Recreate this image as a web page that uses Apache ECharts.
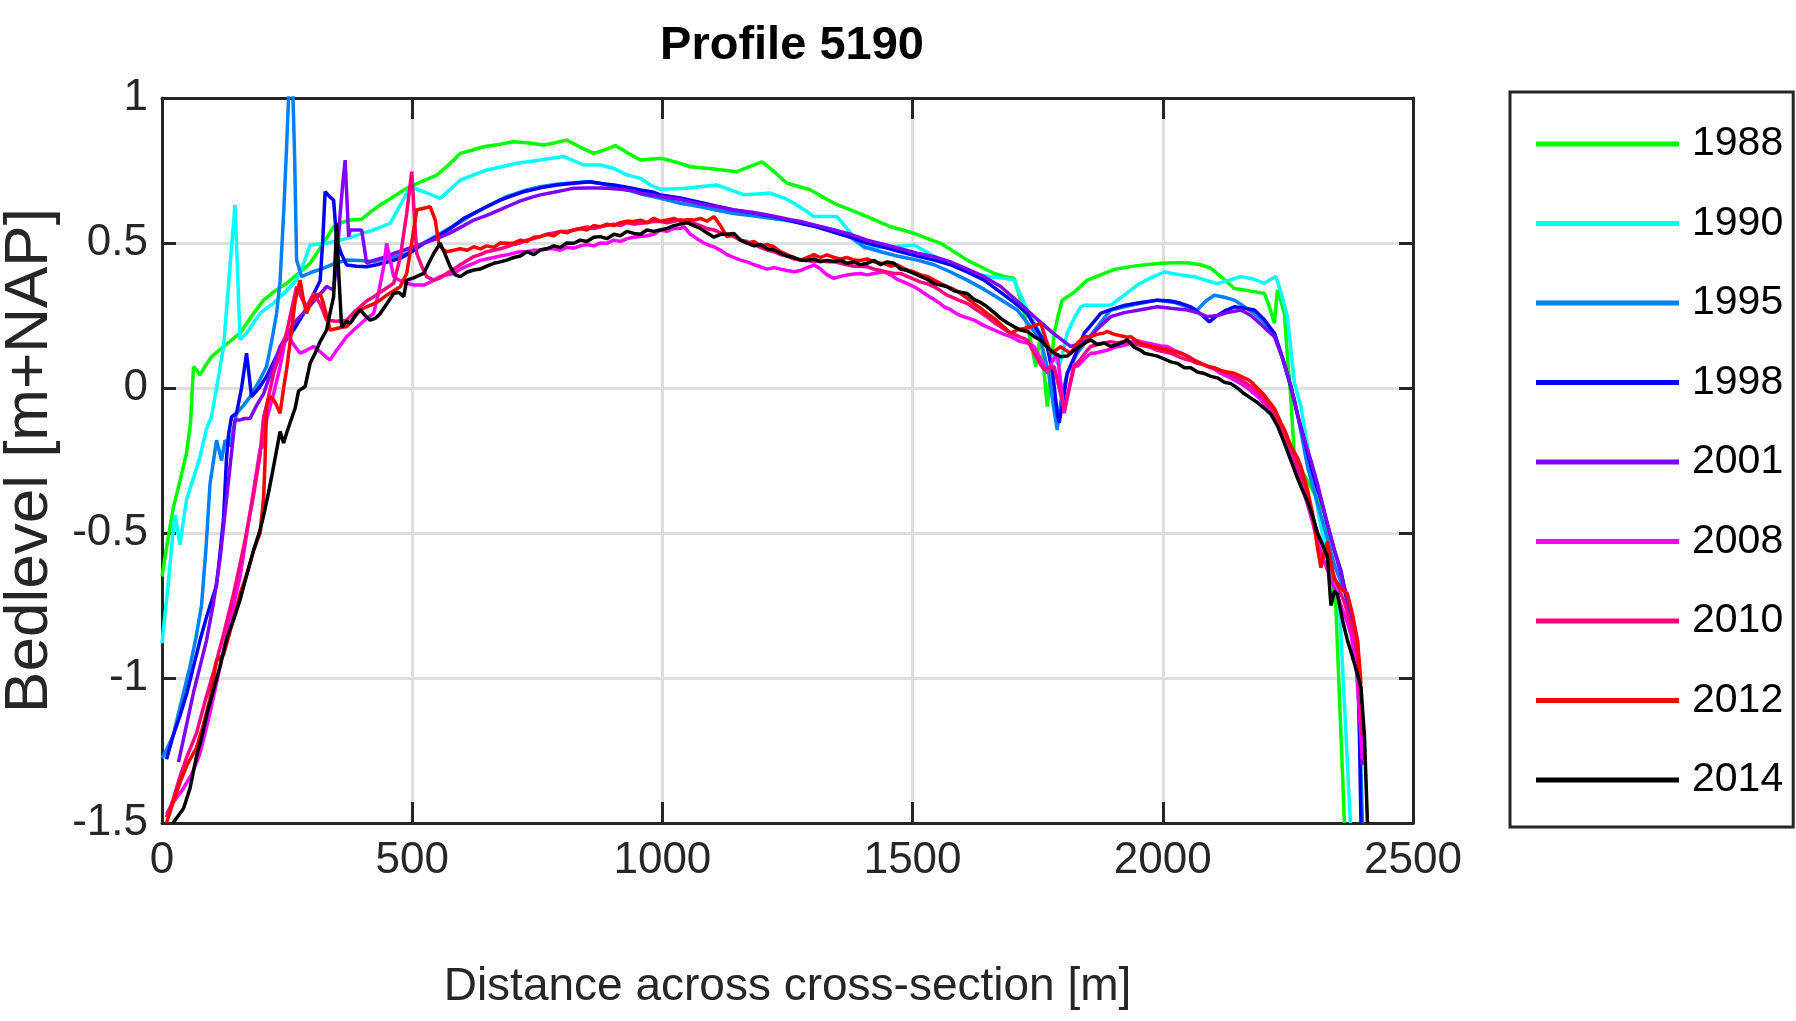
<!DOCTYPE html>
<html>
<head>
<meta charset="utf-8">
<script src="https://cdn.jsdelivr.net/npm/echarts@6/dist/echarts.min.js"></script>
<style>html,body{margin:0;padding:0;background:#fff;}#chart{width:1796px;height:1021px;}</style>
</head>
<body>
<div id="chart"></div>
<script>
// ---- Data (distance [m], bedlevel [m+NAP]) ----
const years = ['1988','1990','1995','1998','2001','2008','2010','2012','2014'];
const colors = ['#00ff00','#00ffff','#0080ff','#0000ff','#8000ff','#ff00ff','#ff0080','#ff0000','#000000'];
const xTicks = [0,500,1000,1500,2000,2500];
const yTicks = [-1.5,-1,-0.5,0,0.5,1];

const d1988 = [[0,-0.65],[11,-0.53],[23,-0.41],[36,-0.32],[49,-0.225],[57,-0.12],[63,0.074],[70,0.06],[76,0.045],[88,0.08],[99,0.108],[128,0.15],[156,0.189],[180,0.25],[203,0.303],[226,0.335],[249,0.361],[273,0.395],[296,0.43],[319,0.49],[343,0.556],[359,0.57],[376,0.579],[399,0.582],[419,0.61],[436,0.631],[463,0.66],[489,0.689],[519,0.712],[549,0.734],[573,0.77],[596,0.809],[619,0.82],[643,0.832],[673,0.84],[703,0.849],[733,0.845],[763,0.838],[786,0.846],[809,0.855],[836,0.83],[863,0.809],[883,0.82],[906,0.836],[931,0.81],[956,0.786],[979,0.79],[999,0.792],[1029,0.778],[1056,0.763],[1103,0.755],[1149,0.746],[1174,0.763],[1199,0.78],[1224,0.745],[1249,0.706],[1273,0.695],[1296,0.683],[1319,0.66],[1343,0.637],[1376,0.614],[1409,0.591],[1433,0.573],[1456,0.556],[1480,0.545],[1503,0.533],[1529,0.516],[1556,0.499],[1583,0.47],[1609,0.441],[1636,0.418],[1663,0.395],[1683,0.385],[1703,0.378],[1713,0.32],[1723,0.257],[1735,0.17],[1746,0.074],[1756,0.189],[1763,0.05],[1769,-0.064],[1776,0.06],[1783,0.189],[1791,0.25],[1799,0.303],[1823,0.33],[1849,0.372],[1876,0.39],[1903,0.409],[1949,0.422],[1996,0.43],[2023,0.432],[2049,0.432],[2076,0.425],[2096,0.413],[2119,0.38],[2143,0.343],[2173,0.335],[2203,0.326],[2213,0.28],[2223,0.223],[2229,0.338],[2236,0.3],[2243,0.257],[2249,0.11],[2256,-0.039],[2263,-0.237],[2279,-0.29],[2296,-0.34],[2309,-0.385],[2323,-0.432],[2336,-0.6],[2346,-0.76],[2363,-1.5]];

const d1990 = [[0,-0.88],[11,-0.7],[22,-0.5],[26,-0.437],[36,-0.54],[49,-0.386],[63,-0.31],[76,-0.237],[89,-0.14],[99,-0.099],[111,0.02],[123,0.143],[135,0.4],[146,0.631],[151,0.4],[156,0.166],[169,0.189],[183,0.225],[196,0.257],[209,0.275],[223,0.292],[246,0.33],[269,0.372],[283,0.43],[296,0.493],[329,0.499],[356,0.51],[383,0.522],[403,0.535],[423,0.545],[456,0.568],[476,0.63],[496,0.694],[526,0.675],[556,0.654],[576,0.685],[596,0.717],[623,0.735],[649,0.752],[679,0.763],[709,0.775],[756,0.786],[803,0.798],[843,0.769],[876,0.769],[903,0.757],[929,0.735],[956,0.723],[976,0.7],[996,0.685],[1023,0.687],[1049,0.689],[1079,0.695],[1109,0.7],[1136,0.683],[1163,0.666],[1189,0.669],[1216,0.672],[1243,0.655],[1263,0.637],[1283,0.615],[1303,0.591],[1329,0.591],[1349,0.591],[1376,0.535],[1403,0.482],[1429,0.485],[1456,0.487],[1479,0.49],[1503,0.493],[1529,0.468],[1556,0.441],[1583,0.42],[1609,0.401],[1636,0.39],[1656,0.384],[1683,0.378],[1703,0.372],[1716,0.32],[1729,0.269],[1746,0.215],[1763,0.166],[1779,0.12],[1793,0.074],[1801,0.13],[1809,0.189],[1823,0.24],[1836,0.28],[1843,0.285],[1869,0.285],[1896,0.286],[1923,0.32],[1949,0.355],[1976,0.38],[2003,0.4],[2036,0.39],[2063,0.384],[2089,0.37],[2109,0.36],[2133,0.372],[2156,0.384],[2183,0.375],[2203,0.361],[2216,0.375],[2226,0.384],[2236,0.33],[2249,0.246],[2256,0.13],[2263,0.017],[2276,-0.064],[2289,-0.2],[2303,-0.35],[2316,-0.48],[2329,-0.58],[2343,-0.66],[2353,-0.75],[2375,-1.5]];

const d1995 = [[0,-1.277],[11,-1.24],[22,-1.2],[39,-1.08],[56,-0.96],[68,-0.86],[79,-0.75],[88,-0.55],[96,-0.33],[103,-0.25],[109,-0.18],[119,-0.25],[126,-0.18],[136,-0.2],[149,-0.087],[163,-0.06],[176,-0.03],[193,0.02],[209,0.074],[219,0.16],[229,0.257],[236,0.37],[243,0.6],[249,0.83],[254,1.05],[261,1.05],[265,0.8],[269,0.441],[279,0.384],[300,0.4],[323,0.413],[346,0.43],[369,0.441],[396,0.44],[423,0.436],[456,0.45],[489,0.464],[523,0.5],[556,0.533],[589,0.565],[623,0.602],[656,0.632],[689,0.66],[723,0.68],[756,0.694],[789,0.703],[823,0.708],[849,0.711],[876,0.706],[903,0.695],[936,0.68],[966,0.665],[996,0.654],[1036,0.637],[1076,0.625],[1109,0.613],[1143,0.602],[1176,0.595],[1209,0.587],[1243,0.579],[1276,0.57],[1309,0.558],[1343,0.545],[1376,0.52],[1403,0.487],[1436,0.47],[1469,0.455],[1509,0.441],[1543,0.425],[1576,0.4],[1609,0.372],[1643,0.34],[1676,0.305],[1709,0.269],[1736,0.21],[1756,0.166],[1772,0.05],[1783,-0.08],[1789,-0.145],[1796,-0.05],[1809,0.051],[1829,0.12],[1849,0.166],[1873,0.22],[1896,0.269],[1936,0.285],[1989,0.303],[2023,0.295],[2049,0.28],[2069,0.269],[2086,0.3],[2103,0.32],[2123,0.313],[2143,0.303],[2163,0.28],[2183,0.257],[2203,0.225],[2223,0.189],[2243,0.08],[2263,-0.04],[2276,-0.15],[2289,-0.27],[2303,-0.36],[2316,-0.44],[2329,-0.52],[2343,-0.61],[2356,-0.67],[2369,-0.73],[2379,-0.84],[2389,-0.96],[2394,-1.2],[2399,-1.5]];

const d1998 = [[9,-1.28],[22,-1.2],[36,-1.13],[50,-1.05],[63,-0.96],[76,-0.87],[89,-0.79],[109,-0.68],[116,-0.57],[123,-0.45],[129,-0.24],[133,-0.16],[139,-0.1],[149,-0.087],[159,0.0],[169,0.12],[179,-0.03],[194,0.0],[209,0.04],[226,0.1],[243,0.154],[263,0.2],[283,0.257],[299,0.31],[316,0.37],[321,0.5],[326,0.677],[335,0.66],[343,0.648],[349,0.51],[359,0.46],[369,0.424],[389,0.42],[409,0.418],[429,0.425],[456,0.437],[476,0.447],[499,0.47],[523,0.499],[549,0.52],[576,0.55],[603,0.585],[623,0.602],[649,0.625],[676,0.648],[703,0.665],[723,0.677],[756,0.69],[789,0.7],[823,0.706],[856,0.711],[876,0.705],[903,0.7],[929,0.692],[956,0.683],[983,0.675],[996,0.666],[1036,0.655],[1076,0.64],[1109,0.627],[1143,0.614],[1183,0.603],[1223,0.59],[1249,0.58],[1276,0.568],[1309,0.555],[1343,0.537],[1376,0.52],[1409,0.499],[1443,0.485],[1476,0.47],[1509,0.455],[1543,0.441],[1576,0.425],[1609,0.4],[1643,0.372],[1676,0.33],[1703,0.295],[1729,0.257],[1749,0.2],[1769,0.143],[1780,0.05],[1789,-0.087],[1793,-0.12],[1801,-0.04],[1809,0.05],[1829,0.13],[1843,0.189],[1863,0.23],[1876,0.257],[1896,0.27],[1923,0.285],[1956,0.295],[1989,0.303],[2016,0.3],[2036,0.292],[2056,0.28],[2076,0.255],[2093,0.228],[2109,0.25],[2123,0.265],[2143,0.28],[2163,0.275],[2183,0.269],[2203,0.235],[2223,0.189],[2240,0.1],[2256,0.005],[2269,-0.09],[2283,-0.18],[2296,-0.27],[2309,-0.35],[2316,-0.385],[2329,-0.47],[2343,-0.56],[2356,-0.63],[2363,-0.69],[2376,-0.8],[2389,-0.92],[2393,-1.2],[2396,-1.5]];

const d2001 = [[33,-1.29],[48,-1.17],[63,-1.05],[76,-0.96],[89,-0.87],[103,-0.74],[116,-0.59],[126,-0.43],[136,-0.27],[146,-0.11],[156,-0.11],[166,-0.105],[176,-0.105],[189,-0.06],[203,-0.02],[219,0.06],[236,0.143],[252,0.19],[269,0.234],[289,0.27],[309,0.31],[329,0.35],[343,0.338],[350,0.45],[356,0.6],[361,0.7],[366,0.786],[373,0.522],[376,0.545],[389,0.545],[399,0.545],[409,0.43],[423,0.44],[443,0.45],[463,0.464],[483,0.475],[503,0.487],[523,0.499],[549,0.515],[576,0.535],[603,0.56],[623,0.579],[649,0.595],[676,0.615],[689,0.625],[716,0.645],[743,0.66],[756,0.666],[783,0.675],[809,0.684],[823,0.689],[849,0.69],[876,0.69],[889,0.689],[916,0.685],[943,0.68],[956,0.671],[983,0.665],[996,0.66],[1036,0.65],[1076,0.635],[1109,0.625],[1143,0.614],[1183,0.605],[1223,0.592],[1256,0.58],[1276,0.574],[1309,0.56],[1343,0.545],[1376,0.53],[1409,0.51],[1443,0.495],[1476,0.48],[1509,0.465],[1543,0.453],[1576,0.435],[1609,0.41],[1643,0.384],[1676,0.35],[1709,0.3],[1743,0.246],[1780,0.19],[1816,0.143],[1829,0.15],[1849,0.166],[1873,0.21],[1896,0.246],[1923,0.26],[1956,0.27],[1989,0.28],[2016,0.275],[2049,0.269],[2069,0.26],[2089,0.246],[2109,0.25],[2129,0.26],[2156,0.269],[2176,0.25],[2196,0.22],[2223,0.177],[2240,0.1],[2256,0.005],[2276,-0.14],[2296,-0.25],[2309,-0.33],[2326,-0.45],[2343,-0.56],[2356,-0.64],[2369,-0.73],[2379,-0.8],[2389,-0.87],[2394,-1.05],[2398,-1.3]];

const d2008 = [[9,-1.47],[22,-1.43],[43,-1.38],[60,-1.33],[76,-1.26],[96,-1.12],[116,-0.96],[136,-0.8],[156,-0.65],[176,-0.43],[196,-0.21],[203,-0.2],[209,-0.11],[223,-0.02],[236,0.074],[249,0.189],[263,0.15],[276,0.12],[289,0.13],[303,0.143],[316,0.125],[329,0.105],[336,0.097],[349,0.13],[369,0.177],[383,0.2],[396,0.22],[409,0.24],[423,0.257],[433,0.33],[443,0.418],[449,0.499],[456,0.44],[463,0.384],[476,0.37],[489,0.361],[503,0.355],[523,0.355],[536,0.365],[556,0.384],[569,0.39],[583,0.395],[596,0.41],[609,0.42],[623,0.43],[636,0.44],[649,0.445],[663,0.45],[676,0.455],[689,0.459],[703,0.465],[716,0.47],[729,0.47],[743,0.475],[756,0.476],[769,0.48],[783,0.48],[796,0.475],[809,0.485],[823,0.482],[836,0.49],[849,0.495],[863,0.49],[876,0.5],[889,0.499],[903,0.51],[916,0.505],[929,0.515],[943,0.52],[956,0.522],[969,0.525],[983,0.53],[996,0.545],[1009,0.54],[1023,0.55],[1036,0.55],[1043,0.556],[1056,0.53],[1069,0.515],[1083,0.5],[1096,0.49],[1103,0.487],[1116,0.475],[1129,0.46],[1143,0.45],[1156,0.441],[1169,0.435],[1183,0.425],[1196,0.418],[1209,0.41],[1223,0.415],[1236,0.41],[1249,0.405],[1263,0.401],[1276,0.405],[1289,0.415],[1303,0.424],[1316,0.41],[1329,0.39],[1343,0.378],[1356,0.385],[1369,0.39],[1383,0.393],[1396,0.395],[1409,0.39],[1423,0.395],[1436,0.4],[1443,0.401],[1456,0.39],[1469,0.375],[1483,0.365],[1496,0.355],[1503,0.349],[1516,0.335],[1529,0.32],[1543,0.305],[1556,0.29],[1563,0.28],[1576,0.27],[1589,0.255],[1603,0.245],[1623,0.234],[1643,0.215],[1663,0.2],[1683,0.185],[1696,0.177],[1716,0.16],[1729,0.155],[1743,0.143],[1756,0.1],[1769,0.051],[1779,0.09],[1789,0.12],[1796,0.02],[1803,-0.087],[1813,0.0],[1823,0.085],[1829,0.074],[1843,0.1],[1856,0.12],[1863,0.12],[1876,0.125],[1889,0.13],[1903,0.14],[1916,0.145],[1929,0.15],[1943,0.166],[1956,0.16],[1969,0.155],[1983,0.15],[1996,0.145],[2009,0.143],[2023,0.13],[2036,0.12],[2049,0.11],[2063,0.095],[2076,0.085],[2089,0.075],[2103,0.065],[2116,0.05],[2129,0.04],[2143,0.028],[2156,0.015],[2169,0.0],[2183,-0.02],[2196,-0.04],[2209,-0.07],[2223,-0.1],[2236,-0.135],[2243,-0.155],[2256,-0.22],[2269,-0.29],[2276,-0.33],[2289,-0.4],[2299,-0.46],[2309,-0.53],[2323,-0.6],[2336,-0.66],[2343,-0.69],[2356,-0.75],[2369,-0.81],[2376,-0.85],[2386,-0.95],[2392,-1.1],[2399,-1.28]];

const d2010 = [[9,-1.48],[22,-1.42],[36,-1.34],[50,-1.27],[69,-1.19],[86,-1.08],[103,-0.98],[123,-0.85],[143,-0.71],[163,-0.55],[183,-0.37],[196,-0.23],[203,-0.1],[209,-0.06],[223,0.05],[236,0.12],[249,0.19],[259,0.27],[269,0.35],[279,0.31],[289,0.28],[303,0.326],[316,0.29],[329,0.234],[349,0.23],[369,0.234],[383,0.26],[396,0.28],[409,0.3],[423,0.315],[436,0.33],[449,0.345],[463,0.361],[476,0.45],[489,0.602],[499,0.746],[509,0.464],[519,0.42],[529,0.384],[543,0.372],[556,0.38],[569,0.395],[583,0.41],[596,0.425],[610,0.44],[623,0.453],[636,0.46],[649,0.47],[663,0.475],[676,0.48],[689,0.487],[703,0.495],[716,0.5],[729,0.51],[743,0.515],[756,0.522],[769,0.53],[783,0.535],[796,0.54],[809,0.54],[823,0.545],[836,0.55],[849,0.555],[863,0.55],[876,0.556],[889,0.56],[903,0.565],[916,0.56],[929,0.57],[943,0.565],[956,0.568],[969,0.57],[983,0.575],[996,0.574],[1009,0.57],[1023,0.575],[1036,0.58],[1049,0.575],[1063,0.568],[1076,0.56],[1089,0.55],[1103,0.545],[1116,0.535],[1129,0.53],[1143,0.522],[1156,0.51],[1169,0.505],[1183,0.495],[1196,0.485],[1209,0.476],[1223,0.47],[1236,0.46],[1249,0.455],[1263,0.445],[1276,0.441],[1289,0.44],[1303,0.435],[1316,0.44],[1329,0.435],[1343,0.436],[1356,0.43],[1369,0.425],[1383,0.42],[1396,0.42],[1409,0.418],[1423,0.41],[1436,0.405],[1449,0.4],[1463,0.395],[1476,0.395],[1489,0.385],[1503,0.375],[1516,0.365],[1529,0.36],[1543,0.349],[1556,0.335],[1569,0.32],[1583,0.31],[1596,0.3],[1609,0.292],[1623,0.275],[1636,0.26],[1649,0.245],[1663,0.225],[1676,0.211],[1689,0.195],[1703,0.185],[1716,0.175],[1729,0.166],[1743,0.12],[1756,0.08],[1763,0.063],[1773,0.07],[1783,0.074],[1793,0.0],[1803,-0.076],[1813,0.0],[1823,0.074],[1836,0.1],[1849,0.13],[1856,0.143],[1869,0.15],[1883,0.155],[1896,0.16],[1909,0.155],[1923,0.16],[1936,0.155],[1949,0.15],[1963,0.145],[1976,0.14],[1989,0.13],[2003,0.125],[2016,0.12],[2029,0.11],[2043,0.1],[2056,0.095],[2069,0.085],[2083,0.08],[2096,0.07],[2109,0.065],[2123,0.055],[2136,0.045],[2149,0.035],[2163,0.02],[2176,0.005],[2189,-0.015],[2203,-0.04],[2216,-0.07],[2229,-0.11],[2243,-0.16],[2256,-0.21],[2269,-0.27],[2283,-0.34],[2296,-0.42],[2309,-0.5],[2323,-0.56],[2336,-0.62],[2349,-0.68],[2363,-0.74],[2376,-0.82],[2389,-0.9],[2394,-1.05],[2398,-1.2]];

const d2012 = [[9,-1.5],[22,-1.43],[36,-1.36],[50,-1.3],[69,-1.24],[83,-1.16],[96,-1.07],[109,-0.94],[123,-0.92],[136,-0.84],[156,-0.71],[170,-0.64],[183,-0.56],[196,-0.5],[203,-0.38],[206,-0.25],[209,-0.06],[216,-0.03],[223,-0.04],[229,-0.06],[236,-0.087],[243,0.0],[249,0.063],[259,0.2],[266,0.3],[276,0.372],[283,0.3],[289,0.257],[296,0.29],[303,0.315],[316,0.326],[323,0.29],[336,0.2],[349,0.205],[362,0.21],[369,0.211],[383,0.24],[396,0.269],[409,0.28],[423,0.29],[436,0.303],[449,0.32],[463,0.335],[476,0.349],[489,0.395],[499,0.5],[509,0.614],[523,0.62],[536,0.625],[546,0.58],[553,0.499],[560,0.48],[569,0.47],[583,0.475],[596,0.48],[610,0.475],[623,0.487],[636,0.48],[649,0.49],[663,0.485],[676,0.5],[689,0.499],[703,0.5],[716,0.51],[729,0.505],[743,0.52],[756,0.522],[769,0.53],[783,0.525],[796,0.54],[809,0.535],[823,0.545],[836,0.55],[849,0.545],[863,0.56],[876,0.556],[889,0.565],[903,0.56],[916,0.57],[929,0.575],[943,0.574],[956,0.579],[969,0.57],[983,0.585],[996,0.575],[1009,0.579],[1023,0.585],[1036,0.575],[1049,0.58],[1063,0.579],[1076,0.585],[1089,0.575],[1103,0.591],[1116,0.56],[1129,0.522],[1143,0.53],[1156,0.51],[1169,0.499],[1183,0.505],[1196,0.49],[1209,0.495],[1223,0.487],[1236,0.47],[1249,0.46],[1263,0.45],[1276,0.441],[1289,0.45],[1303,0.46],[1316,0.45],[1329,0.459],[1343,0.45],[1356,0.445],[1369,0.45],[1383,0.441],[1396,0.44],[1409,0.445],[1423,0.435],[1436,0.43],[1443,0.43],[1456,0.42],[1469,0.425],[1489,0.407],[1503,0.4],[1516,0.39],[1529,0.385],[1543,0.372],[1556,0.36],[1569,0.35],[1583,0.34],[1596,0.326],[1609,0.31],[1623,0.29],[1636,0.275],[1649,0.257],[1663,0.24],[1676,0.22],[1689,0.2],[1696,0.189],[1709,0.2],[1723,0.205],[1736,0.211],[1756,0.223],[1766,0.17],[1776,0.12],[1786,0.13],[1796,0.143],[1806,0.13],[1816,0.12],[1829,0.154],[1843,0.177],[1856,0.177],[1869,0.185],[1883,0.19],[1889,0.195],[1903,0.185],[1916,0.18],[1929,0.175],[1936,0.177],[1949,0.16],[1963,0.149],[1976,0.145],[1989,0.14],[2003,0.135],[2023,0.126],[2036,0.12],[2049,0.11],[2063,0.095],[2076,0.085],[2089,0.075],[2103,0.07],[2116,0.06],[2129,0.055],[2143,0.051],[2156,0.04],[2169,0.03],[2176,0.022],[2189,0.0],[2203,-0.025],[2209,-0.04],[2223,-0.07],[2236,-0.12],[2243,-0.143],[2256,-0.2],[2269,-0.24],[2276,-0.27],[2289,-0.35],[2299,-0.43],[2309,-0.55],[2316,-0.62],[2323,-0.56],[2329,-0.53],[2336,-0.6],[2343,-0.66],[2356,-0.69],[2369,-0.71],[2379,-0.78],[2389,-0.87],[2393,-0.95],[2396,-1.02]];

const d2014 = [[22,-1.5],[43,-1.45],[56,-1.38],[69,-1.27],[80,-1.2],[89,-1.13],[103,-1.04],[116,-0.96],[130,-0.86],[143,-0.8],[156,-0.73],[170,-0.64],[183,-0.56],[196,-0.49],[203,-0.44],[213,-0.36],[223,-0.27],[236,-0.15],[243,-0.19],[250,-0.15],[256,-0.12],[266,-0.07],[273,-0.01],[286,0.005],[296,0.085],[306,0.12],[316,0.16],[329,0.2],[336,0.26],[343,0.315],[349,0.57],[353,0.4],[359,0.21],[369,0.23],[376,0.223],[386,0.25],[396,0.27],[406,0.25],[416,0.234],[426,0.24],[436,0.257],[449,0.29],[463,0.326],[473,0.33],[483,0.315],[489,0.372],[503,0.38],[516,0.39],[523,0.395],[533,0.43],[543,0.464],[556,0.499],[566,0.46],[576,0.418],[586,0.39],[596,0.384],[610,0.4],[623,0.407],[636,0.41],[649,0.42],[663,0.43],[676,0.435],[689,0.441],[703,0.45],[716,0.455],[729,0.47],[743,0.46],[756,0.476],[769,0.48],[783,0.49],[796,0.485],[809,0.5],[823,0.499],[836,0.51],[849,0.505],[863,0.52],[876,0.522],[889,0.515],[903,0.53],[916,0.525],[929,0.54],[943,0.533],[956,0.53],[969,0.545],[983,0.54],[996,0.545],[1009,0.55],[1023,0.56],[1036,0.565],[1049,0.57],[1063,0.56],[1076,0.55],[1089,0.535],[1103,0.52],[1116,0.53],[1129,0.53],[1143,0.533],[1156,0.51],[1169,0.5],[1183,0.49],[1196,0.495],[1209,0.48],[1223,0.476],[1236,0.465],[1249,0.455],[1263,0.45],[1276,0.441],[1289,0.44],[1303,0.445],[1316,0.435],[1329,0.44],[1343,0.436],[1356,0.44],[1369,0.43],[1383,0.435],[1396,0.425],[1409,0.43],[1423,0.44],[1436,0.425],[1449,0.435],[1463,0.43],[1476,0.41],[1489,0.405],[1503,0.395],[1516,0.385],[1529,0.375],[1543,0.36],[1556,0.355],[1569,0.349],[1583,0.335],[1596,0.33],[1609,0.326],[1623,0.305],[1636,0.295],[1649,0.28],[1663,0.26],[1676,0.24],[1689,0.225],[1703,0.211],[1716,0.2],[1729,0.195],[1743,0.177],[1756,0.165],[1769,0.14],[1783,0.12],[1796,0.108],[1809,0.11],[1823,0.131],[1836,0.145],[1849,0.16],[1856,0.166],[1869,0.15],[1883,0.155],[1896,0.143],[1909,0.15],[1923,0.16],[1929,0.166],[1943,0.14],[1956,0.13],[1963,0.12],[1976,0.115],[1989,0.11],[2003,0.1],[2016,0.09],[2029,0.085],[2043,0.07],[2056,0.07],[2069,0.055],[2083,0.05],[2096,0.04],[2109,0.035],[2123,0.02],[2136,0.015],[2149,0.0],[2163,-0.02],[2176,-0.035],[2189,-0.05],[2203,-0.07],[2216,-0.09],[2229,-0.13],[2243,-0.19],[2256,-0.25],[2269,-0.31],[2276,-0.34],[2289,-0.39],[2299,-0.44],[2309,-0.5],[2319,-0.54],[2329,-0.58],[2336,-0.75],[2343,-0.7],[2349,-0.71],[2359,-0.8],[2369,-0.87],[2383,-0.95],[2396,-1.03],[2403,-1.2],[2409,-1.5]];

const seriesData = [d1988,d1990,d1995,d1998,d2001,d2008,d2010,d2012,d2014];

// ---- Chart ----
const SANS = "'Liberation Sans',Arial,Helvetica,sans-serif";
const INK = '#262626';

const chart = echarts.init(document.getElementById('chart'), null, {renderer: 'canvas'});

function boxAxis(pos, isX) {
  const t = isX ? xTicks : yTicks;
  return {
    type: 'value', position: pos,
    min: t[0], max: t[t.length - 1], interval: t[1] - t[0],
    axisLine: {show: true, onZero: false, lineStyle: {color: INK, width: 3}},
    axisTick: {show: true, inside: true, length: isX ? 21 : 14, lineStyle: {color: INK, width: 3}},
    axisLabel: {show: false},
    splitLine: {show: false}
  };
}

const plainNum = v => String(v);

const option = {
  animation: false,
  backgroundColor: '#ffffff',
  title: {
    text: 'Profile 5190',
    left: 787, top: 18, textAlign: 'center',
    textStyle: {fontFamily: SANS, fontWeight: 'bold', fontSize: 47, color: '#000'}
  },
  grid: {left: 162, top: 98, right: 383, bottom: 198, containLabel: false, outerBoundsMode: 'none'},
  legend: {
    data: years,
    orient: 'vertical',
    left: 1510, top: 92,
    padding: [27, 10, 22, 26],
    borderColor: INK, borderWidth: 3,
    icon: 'rect', itemWidth: 143, itemHeight: 5, itemGap: 29.5,
    selectedMode: false,
    textStyle: {fontFamily: SANS, fontSize: 41, color: '#000', lineHeight: 50, padding: [0, 0, 0, 8]}
  },
  xAxis: [
    {
      type: 'value', position: 'bottom',
      min: xTicks[0], max: xTicks[xTicks.length - 1], interval: xTicks[1] - xTicks[0],
      name: 'Distance across cross-section [m]', nameLocation: 'middle', nameGap: 141,
      nameTextStyle: {fontFamily: SANS, fontSize: 46, color: INK},
      axisLine: {show: true, onZero: false, lineStyle: {color: INK, width: 3}},
      axisTick: {show: true, inside: true, length: 21, lineStyle: {color: INK, width: 3}},
      axisLabel: {fontFamily: SANS, fontSize: 44, color: INK, margin: 16, formatter: plainNum},
      splitLine: {show: true, lineStyle: {color: '#dedede', width: 3}}
    },
    boxAxis('top', true)
  ],
  yAxis: [
    {
      type: 'value', position: 'left',
      min: yTicks[0], max: yTicks[yTicks.length - 1], interval: yTicks[1] - yTicks[0],
      name: 'Bedlevel [m+NAP]', nameLocation: 'middle', nameGap: 84,
      nameTextStyle: {fontFamily: SANS, fontSize: 62, color: INK},
      axisLine: {show: true, onZero: false, lineStyle: {color: INK, width: 3}},
      axisTick: {show: true, inside: true, length: 14, lineStyle: {color: INK, width: 3}},
      axisLabel: {fontFamily: SANS, fontSize: 44, color: INK, margin: 14, formatter: plainNum},
      splitLine: {show: true, lineStyle: {color: '#dedede', width: 3}}
    },
    boxAxis('right', false)
  ],
  series: years.map((y, i) => ({
    name: y,
    type: 'line',
    xAxisIndex: 0, yAxisIndex: 0,
    data: seriesData[i],
    symbol: 'none', showSymbol: false,
    clip: true,
    color: colors[i],
    lineStyle: {color: colors[i], width: 3.5},
    itemStyle: {color: colors[i]},
    z: 2 + i
  }))
};

chart.setOption(option);
</script>
</body>
</html>
